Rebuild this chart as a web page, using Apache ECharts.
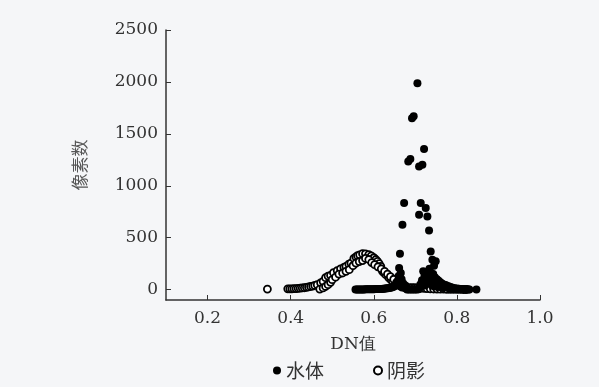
<!DOCTYPE html>
<html>
<head>
<meta charset="utf-8">
<script src="https://cdn.jsdelivr.net/npm/echarts@6/dist/echarts.min.js"></script>
<style>
  html, body { margin: 0; padding: 0; background: #f5f6f8; }
  #chart { width: 599px; height: 387px; }
</style>
</head>
<body>
<div id="chart"></div>
<script>
// 坐标轴刻度
const xTicks = [0.2, 0.4, 0.6, 0.8, 1.0]
const yTicks = [0, 500, 1000, 1500, 2000, 2500]

// 水体 [DN值, 像素数]
const waterPoints = [
  [0.556, 1], [0.559, 1], [0.562, 1], [0.565, 2], [0.568, 2], [0.571, 2],
  [0.574, 2], [0.577, 2], [0.580, 3], [0.583, 3], [0.586, 3], [0.589, 3],
  [0.592, 3], [0.595, 4], [0.598, 4], [0.601, 4], [0.604, 5], [0.607, 5],
  [0.610, 5], [0.613, 6], [0.616, 6], [0.619, 7], [0.622, 8], [0.625, 9],
  [0.628, 10], [0.631, 12], [0.634, 14], [0.637, 16], [0.640, 18], [0.643, 20],
  [0.646, 24], [0.649, 30], [0.652, 40], [0.655, 55], [0.657, 70], [0.659, 95],
  [0.660, 130], [0.661, 209], [0.663, 346], [0.664, 60], [0.665, 160],
  [0.667, 100], [0.668, 30], [0.669, 625], [0.671, 60], [0.673, 834],
  [0.674, 20], [0.676, 40], [0.678, 10], [0.680, 2], [0.683, 1234], [0.684, 2],
  [0.688, 1257], [0.688, 2], [0.692, 1650], [0.692, 2], [0.696, 1670],
  [0.696, 2], [0.700, 2], [0.704, 2], [0.705, 1987], [0.708, 4],
  [0.709, 1186], [0.709, 721], [0.710, 20], [0.712, 50], [0.713, 834],
  [0.714, 30], [0.716, 90], [0.717, 1202], [0.718, 60], [0.719, 176],
  [0.721, 1353], [0.722, 130], [0.723, 40], [0.725, 785], [0.726, 100],
  [0.727, 60], [0.729, 705], [0.730, 140], [0.731, 80], [0.733, 570],
  [0.734, 200], [0.735, 120], [0.736, 60], [0.737, 368], [0.738, 160],
  [0.739, 90], [0.740, 40], [0.741, 288], [0.742, 110], [0.743, 150],
  [0.744, 70], [0.745, 230], [0.746, 30], [0.747, 120], [0.748, 80],
  [0.749, 272], [0.750, 40], [0.752, 100], [0.753, 60], [0.755, 25],
  [0.756, 85], [0.758, 50], [0.760, 70], [0.762, 30], [0.764, 60], [0.766, 15],
  [0.768, 50], [0.770, 30], [0.772, 45], [0.775, 40], [0.777, 20], [0.780, 32],
  [0.782, 12], [0.785, 25], [0.788, 8], [0.790, 18], [0.793, 6], [0.795, 14],
  [0.798, 5], [0.800, 10], [0.803, 4], [0.805, 8], [0.808, 3], [0.810, 6],
  [0.813, 2], [0.815, 5], [0.818, 2], [0.820, 4], [0.823, 2], [0.825, 3],
  [0.828, 1], [0.830, 2], [0.847, 2]
]

// 阴影 [DN值, 像素数]
const shadowPoints = [
  [0.344, 5],
  [0.393, 8], [0.398, 8], [0.403, 8], [0.408, 9], [0.413, 10], [0.418, 12],
  [0.423, 14], [0.428, 16], [0.433, 18], [0.438, 22], [0.443, 26], [0.448, 30],
  [0.453, 34], [0.458, 40], [0.464, 48], [0.472, 65], [0.478, 80], [0.484, 115],
  [0.490, 130], [0.496, 138], [0.503, 163], [0.512, 183], [0.520, 200],
  [0.528, 215], [0.533, 224], [0.540, 245], [0.545, 256], [0.552, 300],
  [0.557, 315], [0.561, 327], [0.566, 335], [0.573, 346], [0.580, 345],
  [0.588, 336], [0.594, 325], [0.600, 307], [0.605, 290], [0.609, 272],
  [0.613, 250], [0.617, 224], [0.621, 176], [0.625, 160], [0.629, 144],
  [0.636, 115], [0.641, 95], [0.645, 80], [0.651, 62], [0.657, 48], [0.663, 35],
  [0.470, 5], [0.478, 16], [0.484, 30], [0.490, 48], [0.496, 70], [0.500, 96],
  [0.508, 120], [0.516, 150], [0.525, 160], [0.533, 176], [0.541, 192],
  [0.550, 230], [0.557, 256], [0.565, 270], [0.573, 280], [0.580, 300],
  [0.588, 290], [0.595, 260], [0.602, 240], [0.610, 220], [0.618, 200],
  [0.626, 175], [0.633, 150], [0.640, 125], [0.648, 100], [0.655, 70], [0.662, 50],
  [0.668, 25], [0.674, 22], [0.680, 20], [0.686, 20], [0.692, 18], [0.698, 18],
  [0.704, 16], [0.710, 15], [0.716, 14], [0.722, 12], [0.728, 10], [0.736, 8],
  [0.744, 6], [0.752, 5], [0.760, 4], [0.768, 4], [0.776, 3], [0.784, 3],
  [0.792, 2], [0.800, 2], [0.808, 2], [0.816, 1], [0.822, 1]
]

const numFont = "'DejaVu Serif', 'Liberation Serif', serif"
const cnFont = "'Noto Sans CJK SC', sans-serif"
const textColor = '#333'

const chart = echarts.init(document.getElementById('chart'))
chart.setOption({
  backgroundColor: '#f5f6f8',
  animation: false,
  grid: { left: 166, right: 59, top: 30, bottom: 87 },
  legend: {
    bottom: 2,
    left: 268,
    itemWidth: 8,
    itemHeight: 8,
    itemGap: 49,
    textStyle: { fontFamily: cnFont, fontSize: 19, color: textColor },
    data: [
      { name: '水体', icon: 'circle' },
      { name: '阴影', icon: 'circle' }
    ]
  },
  xAxis: {
    type: 'value',
    min: 0.1,
    max: 1.0,
    name: 'DN值',
    nameLocation: 'middle',
    nameGap: 36,
    nameTextStyle: { fontFamily: numFont, fontSize: 17, color: textColor },
    axisLine: { onZero: false, lineStyle: { color: '#333', width: 1.5 } },
    axisTick: { inside: true, length: 5, customValues: xTicks, lineStyle: { color: '#333' } },
    axisLabel: {
      customValues: xTicks,
      margin: 10,
      fontFamily: numFont,
      fontSize: 17,
      color: textColor,
      formatter: v => v.toFixed(1)
    },
    splitLine: { show: false }
  },
  yAxis: {
    type: 'value',
    min: -100,
    max: 2500,
    name: '像素数',
    nameLocation: 'middle',
    nameGap: 78,
    nameTextStyle: { fontFamily: cnFont, fontSize: 17, color: '#555' },
    axisLine: { onZero: false, lineStyle: { color: '#333', width: 1.5 } },
    axisTick: { inside: true, length: 5, customValues: yTicks, lineStyle: { color: '#333' } },
    axisLabel: {
      customValues: yTicks,
      margin: 8,
      fontFamily: numFont,
      fontSize: 17,
      color: textColor,
      formatter: v => String(v)
    },
    splitLine: { show: false }
  },
  series: [
    {
      name: '水体',
      type: 'scatter',
      symbol: 'circle',
      symbolSize: 8,
      itemStyle: { color: '#000', opacity: 1 },
      data: waterPoints,
      z: 3
    },
    {
      name: '阴影',
      type: 'scatter',
      symbol: 'circle',
      symbolSize: 7,
      itemStyle: { color: '#fff', borderColor: '#000', borderWidth: 1.8, opacity: 1 },
      data: shadowPoints,
      z: 2
    }
  ]
})
</script>
</body>
</html>
